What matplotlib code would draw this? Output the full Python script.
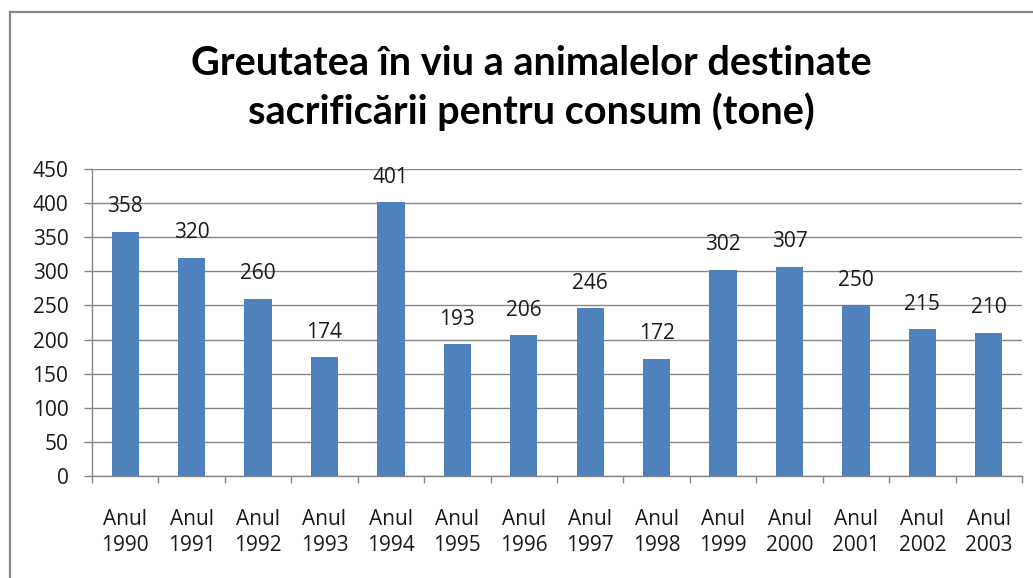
import numpy as np
import matplotlib.pyplot as plt
from matplotlib.lines import Line2D

years = ["1990", "1991", "1992", "1993", "1994", "1995", "1996",
         "1997", "1998", "1999", "2000", "2001", "2002", "2003"]
values = [358, 320, 260, 174, 401, 193, 206, 246, 172, 302, 307, 250, 215, 210]
labels = ["Anul\n" + y for y in years]

title = "Greutatea în viu a animalelor destinate\nsacrificării pentru consum (tone)"

plt.rcParams['font.family'] = ['Open Sans', 'DejaVu Sans']

fig = plt.figure(figsize=(10.33, 5.78), dpi=100)
ax = fig.add_axes([92 / 1033, 1 - 476 / 578, 930 / 1033, 307 / 578])

grey = "#868686"
txt = "#1a1a1a"
x = np.arange(len(values))
ax.bar(x, values, width=0.41, color="#4F81BD", zorder=3)

for xi, v in zip(x, values):
    ax.annotate(str(v), (xi, v), xytext=(0, 18), textcoords="offset points",
                ha="center", va="center", fontsize=15, color=txt, zorder=4)

ax.set_xlim(-0.5, len(values) - 0.5)
ax.set_ylim(0, 450)
ax.set_yticks(np.arange(0, 451, 50))
ax.yaxis.grid(True, color=grey, linewidth=1, zorder=0)

ax.set_xticks(x)
ax.set_xticklabels(labels, fontsize=15, color=txt, linespacing=1.3)
ax.set_xticks(np.arange(-0.5, len(values)), minor=True)
ax.tick_params(axis="x", which="major", length=0, pad=24)
ax.tick_params(axis="x", which="minor", length=5, color=grey, width=1)
ax.tick_params(axis="y", length=6, color=grey, width=1, pad=11, labelsize=15,
               labelcolor=txt)

for s in ["top", "right"]:
    ax.spines[s].set_visible(False)
for s in ["left", "bottom"]:
    ax.spines[s].set_color(grey)
    ax.spines[s].set_linewidth(1)

fig.text(0.514, 1 - 88 / 578, title, ha="center", va="center", fontsize=28.5,
         fontweight="bold", family=["Lato", "DejaVu Sans"], linespacing=1.32)

# chart frame
fig.add_artist(Line2D([10 / 1033, 10 / 1033], [0, 1 - 12 / 578], color=grey, lw=1.6))
fig.add_artist(Line2D([10 / 1033, 1], [1 - 12 / 578, 1 - 12 / 578], color=grey, lw=1.6))

fig.savefig("out.png", dpi=100)
